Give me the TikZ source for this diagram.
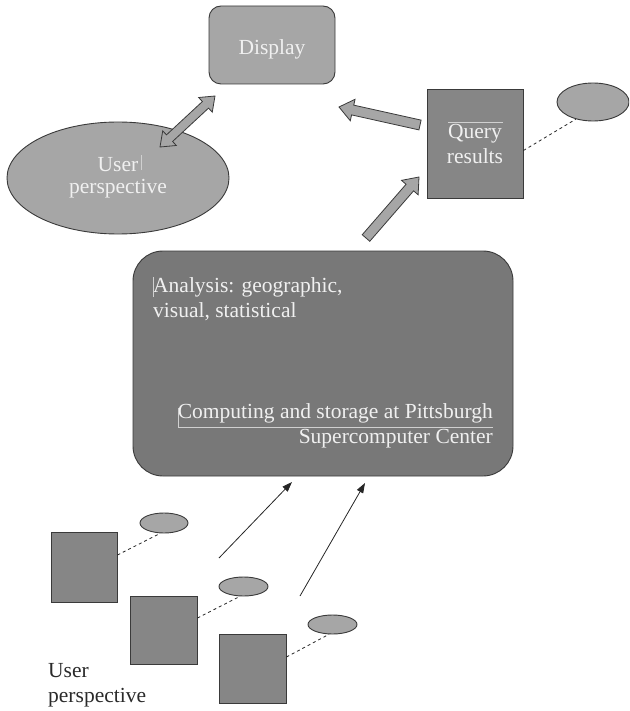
\documentclass[tikz,border=0pt]{standalone}
\usepackage{fontspec}
\setmainfont{Liberation Serif}
\usetikzlibrary{calc,shapes.geometric,arrows.meta}

\definecolor{shadeLight}{HTML}{A6A6A6}
\definecolor{shadeMid}{HTML}{868686}
\definecolor{shadeDark}{HTML}{787878}
\definecolor{edgeGray}{HTML}{3A3A3A}
\definecolor{paleText}{HTML}{F0F0F0}
\definecolor{cursorGray}{HTML}{D0D0D0}
\definecolor{plainText}{HTML}{2A2A2A}

% wide outlined arrow from #1 to #2: half shaft #3, half head #4, head length #5
\newcommand\blockarrow[5]{%
  \filldraw[fatarrow] (#2)
    -- ($(#2)!#5!(#1)!#4!90:(#2)$)
    -- ($(#2)!#5!(#1)!#3!90:(#2)$)
    -- ($(#1)!#3!90:(#2)$)
    -- ($(#1)!#3!-90:(#2)$)
    -- ($(#2)!#5!(#1)!#3!-90:(#2)$)
    -- ($(#2)!#5!(#1)!#4!-90:(#2)$)
    -- cycle;}
% the same with a head at both ends
\newcommand\blockarrowboth[5]{%
  \filldraw[fatarrow] (#1)
    -- ($(#1)!#5!(#2)!#4!90:(#2)$)
    -- ($(#1)!#5!(#2)!#3!90:(#2)$)
    -- ($(#2)!#5!(#1)!#3!90:(#2)$)
    -- ($(#2)!#5!(#1)!#4!90:(#2)$)
    -- (#2)
    -- ($(#2)!#5!(#1)!#4!-90:(#2)$)
    -- ($(#2)!#5!(#1)!#3!-90:(#2)$)
    -- ($(#1)!#5!(#2)!#3!-90:(#2)$)
    -- ($(#1)!#5!(#2)!#4!-90:(#2)$)
    -- cycle;}

\tikzset{
  txt/.style={font=\fontsize{21.5}{25}\selectfont},
  outlined/.style={draw=edgeGray, line width=0.9pt},
  lightbox/.style={outlined, fill=shadeLight, rounded corners=12pt,
    minimum width=126pt, minimum height=78pt},
  bigoval/.style={outlined, ellipse, fill=shadeLight, text=paleText,
    font=\fontsize{21.5}{22}\selectfont, align=center,
    minimum width=222pt, minimum height=112pt, inner sep=0pt},
  smalloval/.style={outlined, ellipse, fill=shadeLight, inner sep=0pt},
  block/.style={outlined, rectangle, fill=shadeMid, inner sep=0pt},
  mainbox/.style={outlined, fill=shadeDark, rounded corners=30pt,
    minimum width=380pt, minimum height=225pt},
  fatarrow/.style={draw=edgeGray, line width=0.8pt, fill=shadeLight, line join=miter},
  dashlink/.style={draw=black!85, line width=0.8pt, dash pattern=on 3pt off 3pt},
  thinarrow/.style={draw=black!85, line width=0.8pt, -{Triangle[length=10pt,width=7pt]}},
  cursorline/.style={draw=cursorGray, line width=0.5pt},
}

\begin{document}
\begin{tikzpicture}[x=1pt, y=-1pt]
  \useasboundingbox (0,0) rectangle (629,711);
  \clip (0,0) rectangle (629,711);

  % display and the user's view of it
  \node[lightbox] (display) at (272,45) {};
  \node[txt, text=paleText, anchor=base, inner sep=0pt] (displaylabel) at (272,55) {Display};
  \node[bigoval] (userview) at (118,178) {User\\perspective};
  \draw[cursorline] (141,155) -- (141,170);

  % query results and its observer
  \node[block, minimum width=96pt, minimum height=109pt, text=paleText, txt, align=center]
    (query) at (475,144) {Query\\results};
  \draw[cursorline] (448,122.5) -- (503,122.5);
  \node[smalloval, minimum width=72pt, minimum height=38pt] (queryeye) at (593,102) {};
  \draw[dashlink] ([yshift=-6.5pt]query.east) -- (queryeye.225);

  % central analysis box
  \node[mainbox] (analysis) at (323,363.5) {};
  \node[txt, text=paleText, align=left, anchor=north west, inner sep=0pt]
    (analysislabel) at (153,277.5) {Analysis: geographic,\\visual, statistical};
  \node[txt, text=paleText, align=right, anchor=north east, inner sep=0pt]
    (computelabel) at (493,403.5) {Computing and storage at Pittsburgh\\Supercomputer Center};
  \draw[cursorline] (153,277) -- (153,297);
  \draw[cursorline] (178,408) -- (178,427) -- (493,427);

  % wide arrows between the upper parts
  \coordinate (viewtip) at (160,147);
  \coordinate (disptip) at (215,96);
  \blockarrowboth{viewtip}{disptip}{4.5pt}{10pt}{13pt}
  \coordinate (qtail) at (420,125);
  \coordinate (qtip) at (339,107);
  \blockarrow{qtail}{qtip}{5pt}{11pt}{14pt}
  \coordinate (atail) at (366,238);
  \coordinate (atip) at (419,177);
  \blockarrow{atail}{atip}{5pt}{11pt}{14pt}

  % remote users at the bottom
  \node[block, minimum width=66pt, minimum height=70pt] (site1) at (84,567) {};
  \node[block, minimum width=67pt, minimum height=68pt] (site2) at (163.5,630) {};
  \node[block, minimum width=67pt, minimum height=69pt] (site3) at (252.5,668.5) {};
  \node[smalloval, minimum width=48pt, minimum height=20pt] (eye1) at (164,523) {};
  \node[smalloval, minimum width=49pt, minimum height=19pt] (eye2) at (243.5,586.5) {};
  \node[smalloval, minimum width=49pt, minimum height=19pt] (eye3) at (332.5,624.5) {};
  \draw[dashlink] ([yshift=12pt]site1.east) -- (eye1.250);
  \draw[dashlink] ([yshift=12pt]site2.east) -- (eye2.250);
  \draw[dashlink] ([yshift=11.5pt]site3.east) -- (eye3.250);

  \coordinate (up1start) at (219,558);
  \coordinate (up1end) at (292,482);
  \coordinate (up2start) at (300,596);
  \coordinate (up2end) at (365,483);
  \draw[thinarrow] (up1start) -- (up1end);
  \draw[thinarrow] (up2start) -- (up2end);

  \node[txt, text=plainText, align=left, anchor=north west, inner sep=0pt]
    (userlabel) at (48,663.5) {User\\perspective};
\end{tikzpicture}
\end{document}
